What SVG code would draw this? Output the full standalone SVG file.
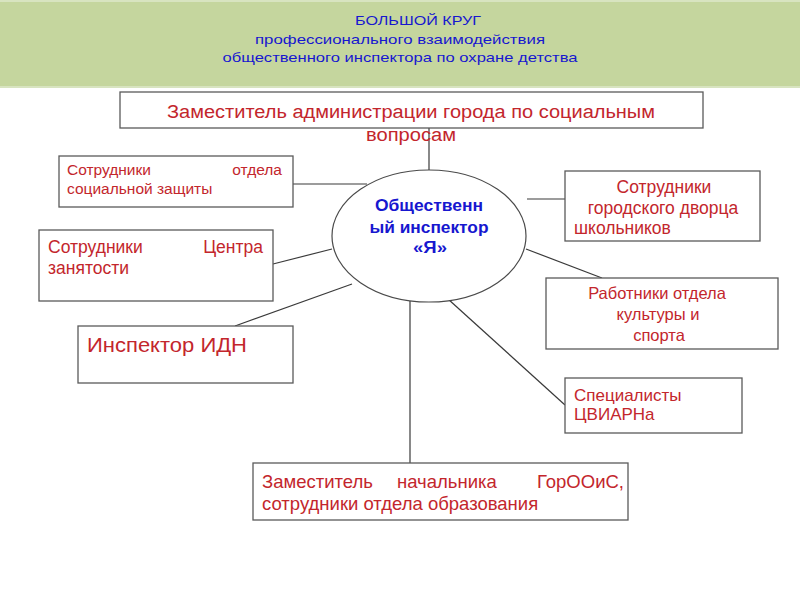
<svg xmlns="http://www.w3.org/2000/svg" width="800" height="600" viewBox="0 0 800 600">
<style>
.box{fill:#fff;stroke:#5a5a5a;stroke-width:1.3}
.red{fill:#c3262c;font-family:"Liberation Sans",Arial,sans-serif}
.blue{fill:#1717cf;font-family:"Liberation Sans",Arial,sans-serif}
.conn line{stroke:#3a3a3a;stroke-width:1.2}
</style>
<rect x="0" y="0" width="800" height="600" fill="#fff"/>
<g id="header">
<rect x="0" y="0" width="800" height="88" fill="#c5d69e"/>
<rect x="0" y="0" width="800" height="2" fill="#d8e4c0"/>
<rect x="0" y="86" width="800" height="2" fill="#d8e4c0"/>
<text class="blue" x="418" y="25" font-size="13" text-anchor="middle" textLength="126" lengthAdjust="spacingAndGlyphs">БОЛЬШОЙ КРУГ</text>
<text class="blue" x="400" y="44" font-size="13" text-anchor="middle" textLength="290" lengthAdjust="spacingAndGlyphs">профессионального взаимодействия</text>
<text class="blue" x="400" y="62" font-size="13" text-anchor="middle" textLength="355" lengthAdjust="spacingAndGlyphs">общественного инспектора по охране детства</text>
</g>
<g class="conn" id="connectors">
<line x1="429" y1="128" x2="429" y2="170"/>
<line x1="293" y1="184" x2="367" y2="184"/>
<line x1="273" y1="264" x2="332" y2="249"/>
<line x1="235" y1="326" x2="352" y2="284"/>
<line x1="410" y1="301" x2="410" y2="463"/>
<line x1="448" y1="299" x2="565" y2="405"/>
<line x1="526" y1="249" x2="602" y2="278"/>
<line x1="527" y1="199" x2="565" y2="199"/>
</g>
<g id="top">
<rect class="box" x="120" y="92" width="583" height="36"/>
<text class="red" x="411" y="118" font-size="18" text-anchor="middle" textLength="488" lengthAdjust="spacingAndGlyphs">Заместитель администрации города по социальным</text>
<text class="red" x="411" y="141" font-size="18" text-anchor="middle" textLength="90" lengthAdjust="spacingAndGlyphs">вопросам</text>
</g>
<g id="center">
<ellipse cx="429" cy="236" rx="97" ry="66" fill="#fff" stroke="#4a4a4a" stroke-width="1.2"/>
<text class="blue" x="429" y="211" font-size="16" font-weight="bold" text-anchor="middle" textLength="108" lengthAdjust="spacingAndGlyphs">Общественн</text>
<text class="blue" x="429" y="233" font-size="16" font-weight="bold" text-anchor="middle" textLength="119" lengthAdjust="spacingAndGlyphs">ый инспектор</text>
<text class="blue" x="430" y="253" font-size="16" font-weight="bold" text-anchor="middle" textLength="34" lengthAdjust="spacingAndGlyphs">«Я»</text>
</g>
<g id="social">
<rect class="box" x="59" y="156" width="234" height="51"/>
<text class="red" x="67" y="175" font-size="15.5">Сотрудники</text>
<text class="red" x="282" y="175" font-size="15.5" text-anchor="end">отдела</text>
<text class="red" x="67" y="194" font-size="15.5">социальной защиты</text>
</g>
<g id="employment">
<rect class="box" x="39" y="230" width="234" height="71"/>
<text class="red" x="48" y="253" font-size="17.5">Сотрудники</text>
<text class="red" x="263" y="253" font-size="17.5" text-anchor="end">Центра</text>
<text class="red" x="48" y="274" font-size="17.5">занятости</text>
</g>
<g id="idn">
<rect class="box" x="78" y="326" width="215" height="57"/>
<text class="red" x="87" y="352" font-size="20" textLength="160" lengthAdjust="spacingAndGlyphs">Инспектор ИДН</text>
</g>
<g id="palace">
<rect class="box" x="565" y="171" width="195" height="70"/>
<text class="red" x="664" y="193" font-size="17.5" text-anchor="middle">Сотрудники</text>
<text class="red" x="663" y="214" font-size="17.5" text-anchor="middle">городского дворца</text>
<text class="red" x="574" y="234" font-size="17.5">школьников</text>
</g>
<g id="culture">
<rect class="box" x="546" y="278" width="232" height="71"/>
<text class="red" x="657" y="299" font-size="16.5" text-anchor="middle">Работники отдела</text>
<text class="red" x="658" y="320" font-size="16.5" text-anchor="middle">культуры и</text>
<text class="red" x="659" y="341" font-size="16.5" text-anchor="middle">спорта</text>
</g>
<g id="cviarn">
<rect class="box" x="565" y="378" width="177" height="55"/>
<text class="red" x="574" y="401" font-size="17">Специалисты</text>
<text class="red" x="574" y="420" font-size="17">ЦВИАРНа</text>
</g>
<g id="education">
<rect class="box" x="253" y="463" width="375" height="57"/>
<text class="red" x="262" y="488" font-size="18.5">Заместитель</text>
<text class="red" x="397" y="488" font-size="18.5">начальника</text>
<text class="red" x="624" y="488" font-size="18.5" text-anchor="end">ГорООиС,</text>
<text class="red" x="262" y="510" font-size="18.5">сотрудники отдела образования</text>
</g>
</svg>
